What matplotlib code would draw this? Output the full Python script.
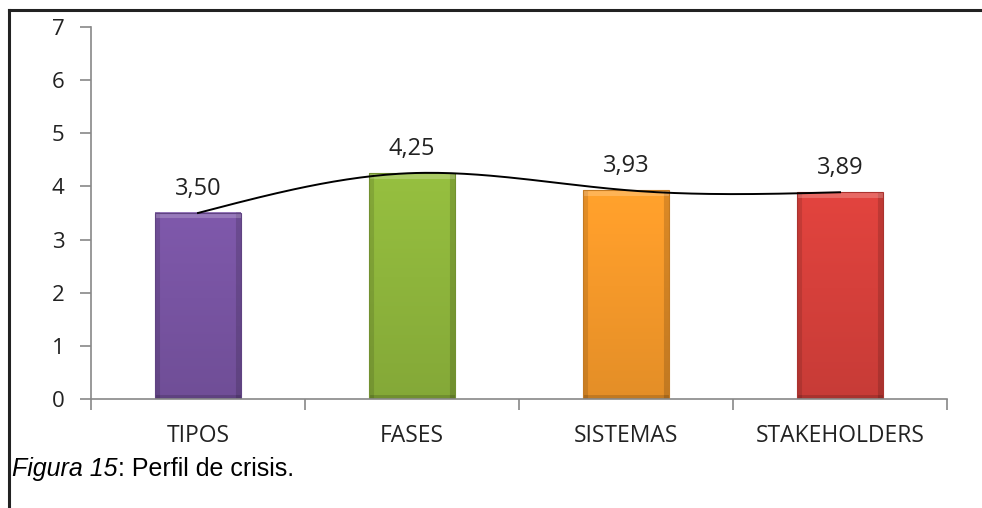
import numpy as np
import matplotlib.pyplot as plt
from matplotlib.lines import Line2D
from matplotlib.colors import to_rgb

categorias = ['TIPOS', 'FASES', 'SISTEMAS', 'STAKEHOLDERS']
valores = [3.50, 4.25, 3.93, 3.89]
etiquetas = ['3,50', '4,25', '3,93', '3,89']
colores = ['#7854A2', '#8EB53C', '#F5992A', '#D6403B']

fig = plt.figure(figsize=(9.82, 5.08), dpi=100)
ax = fig.add_axes([0.0927, 0.2146, 0.8717, 0.7323])

x = np.arange(len(categorias))
ancho = 0.4
px_unit = 53.3  # pixels per y unit, for the bevel look
for xi, v, c in zip(x, valores, colores):
    base = np.array(to_rgb(c))
    H, W = int(v * px_unit), 85
    rows = np.linspace(1.06, 0.93, H)[:, None] * np.ones((1, W))
    img = rows[:, :, None] * base[None, None, :]
    img[:, :5] *= 0.88
    img[:, -5:] *= 0.85
    img[-4:, :] *= 0.85
    img[:6, :] = img[:6, :] * 0.8 + 0.2
    img = np.clip(img, 0, 1)
    ax.imshow(img, extent=(xi - ancho / 2, xi + ancho / 2, 0, v), aspect='auto',
              interpolation='bilinear', zorder=2)
    ax.bar(xi, v, width=ancho, color='none', edgecolor=base * 0.8, linewidth=0.8, zorder=2.1)

# smoothed line through the bar tops (natural cubic spline)
n = len(valores)
y = np.array(valores)
A = np.zeros((n, n))
b = np.zeros(n)
A[0, 0] = A[-1, -1] = 1
for i in range(1, n - 1):
    A[i, i - 1:i + 2] = [1, 4, 1]
    b[i] = 6 * (y[i - 1] - 2 * y[i] + y[i + 1])
M = np.linalg.solve(A, b)
cx, cy = [], []
t = np.linspace(0, 1, 50)
for i in range(n - 1):
    seg = y[i] * (1 - t) + y[i + 1] * t \
        + (M[i] * ((1 - t) ** 3 - (1 - t)) + M[i + 1] * (t ** 3 - t)) / 6
    cx.extend(x[i] + t)
    cy.extend(seg)
ax.plot(cx, cy, color='black', lw=1.4, zorder=3)

for xi, v, lab in zip(x, valores, etiquetas):
    ax.annotate(lab, (xi, v), xytext=(0, 13), textcoords='offset points',
                ha='center', va='baseline', fontsize=17, family='Open Sans', color='#222222')

ax.set_xlim(-0.5, 3.5)
ax.set_ylim(0, 7)
ax.set_yticks(range(8))
ax.set_xticks(x)
ax.set_xticklabels(categorias, fontsize=16.5, family='Open Sans', color='#222222')
ax.set_xticks(np.arange(-0.5, 4.0, 1), minor=True)
ax.tick_params(axis='x', which='major', length=0, pad=18)
ax.tick_params(axis='x', which='minor', length=8, color='#888888', width=1.2)
ax.tick_params(axis='y', length=8, color='#888888', width=1.2, pad=11, labelsize=16)
for lab in ax.get_yticklabels():
    lab.set_family('Open Sans')
    lab.set_color('#222222')
for s in ['top', 'right']:
    ax.spines[s].set_visible(False)
for s in ['left', 'bottom']:
    ax.spines[s].set_color('#888888')
    ax.spines[s].set_linewidth(1.2)

# frame lines of the figure
fig.add_artist(Line2D([9 / 982, 9 / 982], [0, 1 - 10 / 508], color='#222222', lw=2.2,
                      transform=fig.transFigure))
fig.add_artist(Line2D([9 / 982, 1], [1 - 10 / 508, 1 - 10 / 508], color='#222222', lw=2.2,
                      transform=fig.transFigure))

t1 = fig.text(12 / 982, 1 - 476 / 508, 'Figura 15', fontsize=18, style='italic',
              family='Liberation Sans', va='baseline')
r = fig.canvas.get_renderer()
bb = t1.get_window_extent(renderer=r)
fig.text(bb.x1 / fig.bbox.width + 0.001, 1 - 476 / 508, ': Perfil de crisis.', fontsize=18,
         family='Liberation Sans', va='baseline')

fig.savefig('out.png', dpi=100)
